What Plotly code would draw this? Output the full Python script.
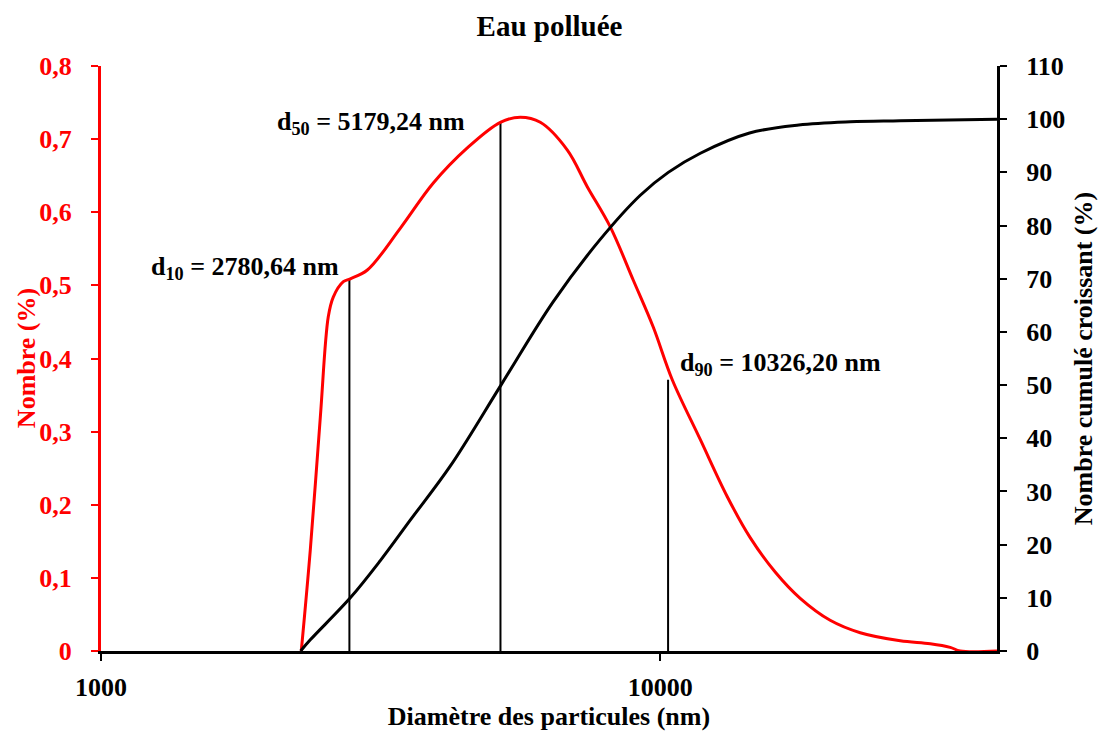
import numpy as np
import plotly.graph_objects as go

# Particle size distribution (number %) vs diameter (nm)
diam_nombre = [2281, 2367, 2467, 2549, 2602, 2712, 2791, 2994, 3428, 3928,
               4518, 5176, 5619, 6102, 6821, 7403, 8139, 8949, 9714, 10505, 11794,
               13177, 14479, 16048, 17791, 20124, 22777, 26853, 30389, 32987, 34378, 40000]
nombre = [0.0, 0.138, 0.320, 0.457, 0.484, 0.505, 0.509, 0.521, 0.578, 0.640,
          0.688, 0.723, 0.730, 0.723, 0.685, 0.635, 0.580, 0.507, 0.443, 0.371, 0.289,
          0.211, 0.155, 0.108, 0.072, 0.042, 0.025, 0.014, 0.010, 0.005, 0.0, 0.0]

# Cumulative number (%)
diam_cumul = [2275, 2367, 2791, 3158, 3572, 4214, 5190, 6428, 7796, 9210,
              10335, 11794, 14442, 17686, 21861, 26853, 40000]
cumul = [0.0, 2.1, 10.0, 17.0, 24.6, 34.8, 50.0, 65.6, 77.3, 85.7,
         90.0, 93.6, 97.4, 98.9, 99.5, 99.7, 100.0]

# Characteristic diameters and curve heights at those diameters
d_labels = ["10", "50", "90"]
d_values = [2780.64, 5179.24, 10326.20]
d_heights = [0.509, 0.722, 0.371]
d_texts = ["2780,64", "5179,24", "10326,20"]

y1_ticks = [0, 0.1, 0.2, 0.3, 0.4, 0.5, 0.6, 0.7, 0.8]
y1_text = ["0", "0,1", "0,2", "0,3", "0,4", "0,5", "0,6", "0,7", "0,8"]
y2_ticks = list(range(0, 111, 10))
x_ticks = [1000, 10000]
x_text = ["1000", "10000"]

FONT = "Liberation Serif"
RED = "#ff0000"

fig = go.Figure()

for d, h in zip(d_values, d_heights):
    fig.add_trace(go.Scatter(x=[d, d], y=[0, h], mode="lines",
                             line=dict(color="black", width=2),
                             hoverinfo="skip", showlegend=False))

fig.add_trace(go.Scatter(x=diam_nombre, y=nombre, mode="lines",
                         line=dict(color=RED, width=3, shape="spline", smoothing=1.0),
                         showlegend=False))

fig.add_trace(go.Scatter(x=diam_cumul, y=cumul, mode="lines", yaxis="y2",
                         line=dict(color="black", width=3, shape="spline", smoothing=1.0),
                         showlegend=False))

# labels for d10 / d50 / d90
anno_pos = [
    dict(y=0.524, xanchor="right", xshift=-8),
    dict(y=0.722, xanchor="right", xshift=-33),
    dict(y=0.392, xanchor="left", xshift=10),
]
for lab, d, txt, p in zip(d_labels, d_values, d_texts, anno_pos):
    fig.add_annotation(x=np.log10(d), y=p["y"], xref="x", yref="y",
                       text=f"<b>d<sub>{lab}</sub> = {txt} nm</b>", showarrow=False,
                       xanchor=p["xanchor"], yanchor="middle", xshift=p["xshift"],
                       font=dict(family=FONT, size=26, color="black"))

# left axis title
fig.add_annotation(x=-0.083, y=0.5, xref="paper", yref="paper", textangle=-90,
                   text="<b>Nombre (%)</b>", showarrow=False,
                   xanchor="center", yanchor="middle",
                   font=dict(family=FONT, size=26, color=RED))

fig.update_layout(
    width=1099, height=733,
    paper_bgcolor="white", plot_bgcolor="white",
    margin=dict(l=101, r=102, t=66, b=82),
    title=dict(text="<b>Eau polluée</b>", x=0.5, xanchor="center", y=0.978, yanchor="top",
               font=dict(family=FONT, size=29, color="black")),
    font=dict(family=FONT, size=25, color="black"),
    xaxis=dict(type="log", range=[3, np.log10(40000)], automargin=False,
               tickvals=x_ticks, ticktext=[f"<b>{t}</b>" for t in x_text],
               ticks="outside", ticklen=7, tickwidth=2, tickcolor="black",
               showline=True, linecolor="black", linewidth=3,
               showgrid=False, zeroline=False, ticklabelstandoff=4,
               tickfont=dict(family=FONT, size=26, color="black"),
               title=dict(text="<b>Diamètre des particules (nm)</b>", standoff=6,
                          font=dict(family=FONT, size=26, color="black"))),
    yaxis=dict(range=[0, 0.8], tickvals=y1_ticks, automargin=False,
               ticktext=[f"<b>{t}</b>" for t in y1_text],
               ticks="outside", ticklen=7, tickwidth=2, tickcolor=RED,
               showline=True, linecolor=RED, linewidth=3,
               showgrid=False, zeroline=False, ticklabelstandoff=14,
               tickfont=dict(family=FONT, size=26, color=RED)),
    yaxis2=dict(range=[0, 110], tickvals=y2_ticks, automargin=False,
                ticktext=[f"<b>{t}</b>" for t in y2_ticks],
                overlaying="y", side="right",
                ticks="outside", ticklen=7, tickwidth=2, tickcolor="black",
                showline=True, linecolor="black", linewidth=3,
                showgrid=False, zeroline=False, ticklabelstandoff=14,
                tickfont=dict(family=FONT, size=26, color="black"),
                title=dict(text="<b>Nombre cumulé croissant (%)</b>", standoff=10,
                           font=dict(family=FONT, size=26, color="black"))),
)

fig.write_html("out.html")
